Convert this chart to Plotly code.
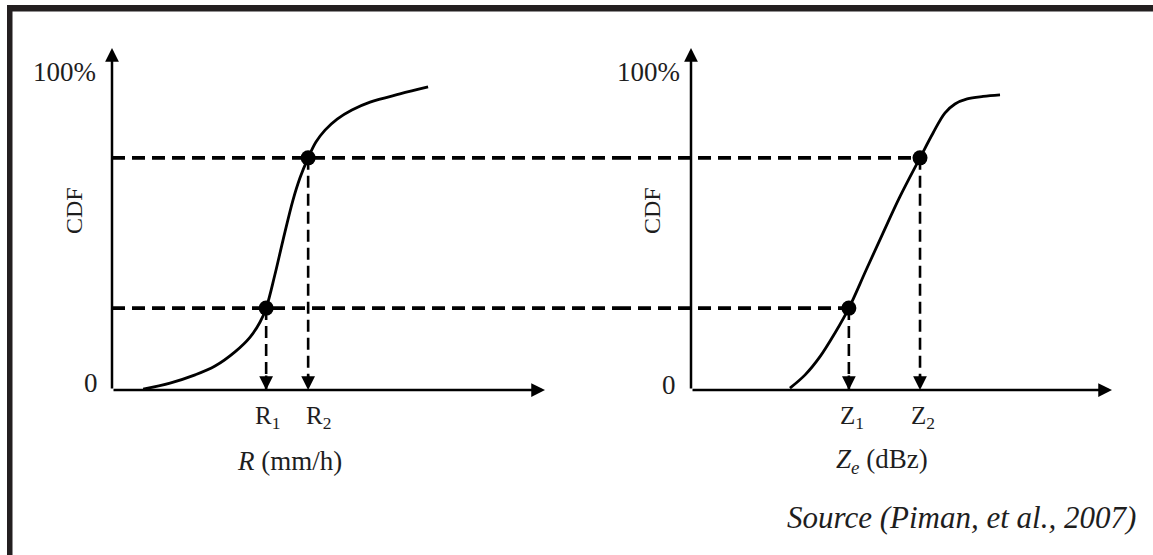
import plotly.graph_objects as go

# ---------------- data ----------------
# Left panel: CDF of rain rate R (arbitrary axis units, 0..100 = axis length)
r_curve_x   = [7.2, 13.4, 19.2, 23.8, 28.4, 31.9, 34.2, 35.6, 37.6, 39.5, 41.8, 43.4, 45.3, 47.1, 49.2, 52.0, 55.4, 59.6, 66.5, 73.0]
r_curve_cdf = [0.3, 2.2, 4.8, 7.6, 12.1, 16.8, 21.6, 26.0, 36.5, 47.6, 60.3, 67.3, 73.7, 78.7, 82.5, 86.0, 88.9, 91.4, 94.0, 96.2]
# Right panel: CDF of reflectivity Ze
z_curve_x   = [23.5, 27.1, 30.6, 34.2, 37.5, 41.6, 45.6, 49.6, 54.4, 57.5, 60.3, 62.7, 65.6, 69.4, 73.4]
z_curve_cdf = [0.6, 4.8, 10.5, 18.1, 26.0, 38.1, 49.8, 61.3, 73.7, 81.6, 87.9, 90.8, 92.4, 93.2, 93.7]

cdf_levels = [26.0, 73.7]          # matched CDF levels
r_marks = [35.6, 45.3]             # R1, R2
z_marks = [37.5, 54.4]             # Z1, Z2
r_tick_labels = ["R<sub>1</sub>", "R<sub>2</sub>"]
z_tick_labels = ["Z<sub>1</sub>", "Z<sub>2</sub>"]
y_labels = ["0", "100%"]
y_title = "CDF"
r_title = "<i>R</i> (mm/h)"
z_title = "<i>Z<sub>e</sub></i> (dBz)"
source_text = "<i>Source (Piman, et al., 2007)</i>"

# ---------------- layout constants ----------------
W, H = 1153, 555
FONT = "Liberation Serif"
BLACK = "#000000"
TXT = "#1e1e1e"

x1_range = [0, 116.86]
x2_range = [-17.34, 109.74]
y_range = [0, 111.11]
x1_dom = [112 / W, 618 / W]
x2_dom = [618 / W, 1.0]
y_dom = [1 - 390 / H, 1 - 40 / H]

fig = go.Figure()

# curves
fig.add_trace(go.Scatter(x=r_curve_x, y=r_curve_cdf, mode="lines", xaxis="x", yaxis="y",
                         line=dict(color=BLACK, width=2.8, shape="spline", smoothing=1.0),
                         hoverinfo="skip", showlegend=False))
fig.add_trace(go.Scatter(x=z_curve_x, y=z_curve_cdf, mode="lines", xaxis="x2", yaxis="y",
                         line=dict(color=BLACK, width=2.8, shape="spline", smoothing=1.0),
                         hoverinfo="skip", showlegend=False))

# horizontal dashed lines, across both panels
for i, lev in enumerate(cdf_levels):
    fig.add_trace(go.Scatter(x=[0, x1_range[1]], y=[lev, lev], mode="lines", xaxis="x", yaxis="y",
                             line=dict(color=BLACK, width=3.6, dash="13px,7px"),
                             hoverinfo="skip", showlegend=False))
    fig.add_trace(go.Scatter(x=[x2_range[0], z_marks[i]], y=[lev, lev], mode="lines", xaxis="x2", yaxis="y",
                             line=dict(color=BLACK, width=3.6, dash="13px,7px"),
                             hoverinfo="skip", showlegend=False))
    # vertical dashed drop lines
    fig.add_trace(go.Scatter(x=[r_marks[i], r_marks[i]], y=[lev, 0], mode="lines", xaxis="x", yaxis="y",
                             line=dict(color=BLACK, width=2.6, dash="12px,6px"),
                             hoverinfo="skip", showlegend=False))
    fig.add_trace(go.Scatter(x=[z_marks[i], z_marks[i]], y=[lev, 0], mode="lines", xaxis="x2", yaxis="y",
                             line=dict(color=BLACK, width=2.6, dash="12px,6px"),
                             hoverinfo="skip", showlegend=False))

# dots
fig.add_trace(go.Scatter(x=r_marks, y=cdf_levels, mode="markers", xaxis="x", yaxis="y",
                         marker=dict(color=BLACK, size=15), hoverinfo="skip", showlegend=False))
fig.add_trace(go.Scatter(x=z_marks, y=cdf_levels, mode="markers", xaxis="x2", yaxis="y",
                         marker=dict(color=BLACK, size=15), hoverinfo="skip", showlegend=False))

ann = []
arrow_kw = dict(showarrow=True, arrowhead=2, arrowsize=1.1, arrowwidth=2.5, arrowcolor=BLACK,
                text="", standoff=0)
for xr in ["x", "x2"]:
    # y axis with arrow
    ann.append(dict(xref=xr, yref="y", x=0, y=108.6, axref=xr, ayref="y", ax=0, ay=0, **arrow_kw))
    # x axis with arrow
    ann.append(dict(xref=xr, yref="y", x=100, y=0, axref=xr, ayref="y", ax=0, ay=0, **arrow_kw))

# arrow heads at the bottom of the drop lines
for xr, marks in [("x", r_marks), ("x2", z_marks)]:
    for m in marks:
        ann.append(dict(xref=xr, yref="y", x=m, y=0, ax=0, ay=-16, **arrow_kw))

# y labels
for xr, sh0, sh100, shy0, cdf_sh in [("x", -12, -14, 7, -38), ("x2", -13, -9, 5, -39)]:
    ann.append(dict(xref=xr, yref="y", x=0, y=0, text=y_labels[0], showarrow=False,
                    xanchor="right", yanchor="middle", xshift=sh0, yshift=shy0,
                    font=dict(family=FONT, size=27, color=TXT)))
    ann.append(dict(xref=xr, yref="y", x=0, y=100, text=y_labels[1], showarrow=False,
                    xanchor="right", yanchor="middle", xshift=sh100, yshift=3,
                    font=dict(family=FONT, size=27, color=TXT)))
    ann.append(dict(xref=xr, yref="y", x=0, y=56.8, text=y_title, showarrow=False,
                    textangle=-90, xanchor="center", yanchor="middle", xshift=cdf_sh,
                    font=dict(family=FONT, size=24, color=TXT)))

# tick labels under the axes
for xr, marks, labels, shifts in [("x", r_marks, r_tick_labels, [1, 10]),
                                  ("x2", z_marks, z_tick_labels, [3, 3])]:
    for m, lab, s in zip(marks, labels, shifts):
        ann.append(dict(xref=xr, yref="y", x=m, y=0, text=lab, showarrow=False,
                        xanchor="center", yanchor="middle", xshift=s, yshift=-27,
                        font=dict(family=FONT, size=25, color=TXT)))

# axis titles
ann.append(dict(xref="x", yref="y", x=(r_marks[0] + r_marks[1]) / 2, y=0, text=r_title, showarrow=False,
                xanchor="center", yanchor="middle", xshift=2, yshift=-71,
                font=dict(family=FONT, size=27, color=TXT)))
ann.append(dict(xref="x2", yref="y", x=(z_marks[0] + z_marks[1]) / 2, y=0, text=z_title, showarrow=False,
                xanchor="center", yanchor="middle", xshift=-2, yshift=-71,
                font=dict(family=FONT, size=27, color=TXT)))

# source
ann.append(dict(xref="paper", yref="paper", x=1138 / W, y=1 - 517 / H, text=source_text, showarrow=False,
                xanchor="right", yanchor="middle",
                font=dict(family=FONT, size=31, color=TXT)))

# frame (top and left thick border)
FRAME = "#231f20"
shapes = [
    dict(type="rect", xref="paper", yref="paper", x0=7 / W, x1=1.0, y0=1 - 11.5 / H, y1=1 - 5 / H,
         fillcolor=FRAME, line=dict(width=0), layer="above"),
    dict(type="rect", xref="paper", yref="paper", x0=7 / W, x1=12.5 / W, y0=0, y1=1 - 5 / H,
         fillcolor=FRAME, line=dict(width=0), layer="above"),
]

axis_off = dict(showgrid=False, zeroline=False, showticklabels=False, showline=False,
                ticks="", fixedrange=True)
fig.update_layout(
    width=W, height=H,
    margin=dict(l=0, r=0, t=0, b=0),
    paper_bgcolor="white", plot_bgcolor="white",
    showlegend=False,
    xaxis=dict(domain=x1_dom, range=x1_range, anchor="y", **axis_off),
    xaxis2=dict(domain=x2_dom, range=x2_range, anchor="y", **axis_off),
    yaxis=dict(domain=y_dom, range=y_range, anchor="x", **axis_off),
    annotations=ann,
    shapes=shapes,
)

fig.write_html("out.html", config={"displayModeBar": False},
               post_script="document.body.style.margin='0';document.body.style.overflow='hidden';")
